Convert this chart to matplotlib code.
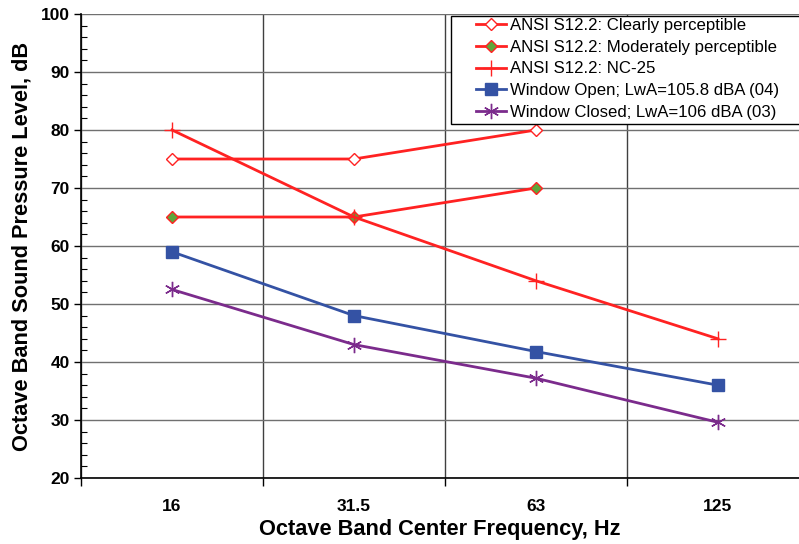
import matplotlib.pyplot as plt
from matplotlib.patches import Rectangle
import numpy as np

plt.rcParams['font.family'] = ['Liberation Sans', 'DejaVu Sans']

# data
bandas = ['16', '31.5', '63', '125']
chiaro = [75, 75, 80]
moderato = [65, 65, 70]
nc25 = [80, 65, 54, 44]
finestra_aperta = [59, 48, 41.8, 36]
finestra_chiusa = [52.5, 43, 37.2, 29.6]

rosso = '#ff2222'
verde = '#5ea63a'
blu = '#3452a4'
viola = '#7b2b8c'

fig = plt.figure(figsize=(7.99, 5.44), dpi=100)
ax = fig.add_axes([81 / 799, 1 - 478 / 544, 1 - 81 / 799, (478 - 14) / 544])

x = np.arange(len(bandas))
ax.plot(x[:3], chiaro, color=rosso, lw=2, marker='D', ms=6.5,
        mfc='white', mec=rosso, mew=1.0, label='ANSI S12.2: Clearly perceptible', zorder=3)
ax.plot(x[:3], moderato, color=rosso, lw=2, marker='D', ms=6.5,
        mfc=verde, mec=rosso, mew=1.0, label='ANSI S12.2: Moderately perceptible', zorder=3)
ax.plot(x, nc25, color=rosso, lw=2, marker='+', ms=11, mew=1.0,
        label='ANSI S12.2: NC-25', zorder=3)
ax.plot(x, finestra_aperta, color=blu, lw=2, marker='s', ms=8.5,
        label='Window Open; LwA=105.8 dBA (04)', zorder=3)
ax.plot(x, finestra_chiusa, color=viola, lw=2, marker=(6, 2, 0), ms=11, mew=1.0,
        label='Window Closed; LwA=106 dBA (03)', zorder=3)

ax.set_ylim(20, 100)
ax.set_xlim(-0.5, 3.5 - 10 / 182)
ax.set_yticks(np.arange(20, 101, 10))
ax.set_yticks(np.arange(20, 101, 2), minor=True)
ax.set_xticks([-0.5, 0.5, 1.5, 2.5])
ax.set_xticklabels([])
ax.set_xticks(x, minor=True)
ax.set_xticklabels(bandas, minor=True)

ax.tick_params(axis='y', which='major', direction='out', length=5, width=1,
               labelsize=12.5, pad=3)
ax.tick_params(axis='y', which='minor', direction='in', length=4, width=0.8)
ax.tick_params(axis='x', which='major', direction='out', length=6, width=1)
ax.tick_params(axis='x', which='minor', length=0, labelsize=12.5, pad=15)
for t in ax.get_yticklabels() + ax.get_xticklabels(minor=True):
    t.set_fontweight('bold')

ax.grid(axis='y', which='major', color='#707070', lw=1.0)
ax.grid(axis='x', which='major', color='#404040', lw=1.0)
ax.set_axisbelow(True)
ax.spines['right'].set_visible(False)
ax.spines['top'].set_visible(False)
ax.spines['left'].set_linewidth(1.2)
ax.spines['bottom'].set_linewidth(1.2)

ax.set_ylabel('Octave Band Sound Pressure Level, dB', fontsize=15.7, fontweight='bold', labelpad=6)
ax.set_xlabel('Octave Band Center Frequency, Hz', fontsize=15.7, fontweight='bold', labelpad=4)

# cornice della legenda (esce dal bordo destro come nell'originale)
cornice = Rectangle(((451 - 81) / 718, 1 - (124 - 14) / 464), 0.6, (124 - 16) / 464,
                    transform=ax.transAxes, facecolor='white', edgecolor='black',
                    lw=1.0, clip_on=False, zorder=4)
ax.add_patch(cornice)

leg = ax.legend(loc='upper left', bbox_to_anchor=((476 - 81) / 718, 1 - (18 - 14) / 464),
                fontsize=12.1, frameon=False, borderpad=0, labelspacing=0.4,
                handlelength=1.8, handletextpad=0.2, borderaxespad=0)
leg.set_zorder(5)

fig.savefig('out.png', dpi=100)
